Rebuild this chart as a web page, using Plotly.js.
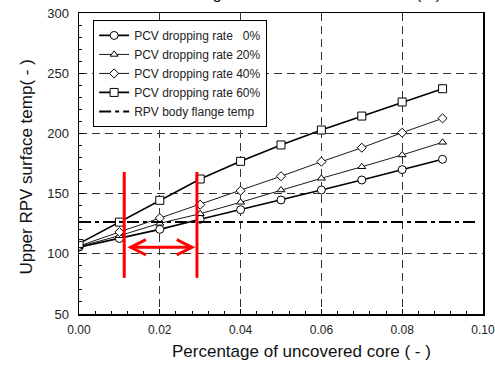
<!DOCTYPE html>
<html><head><meta charset="utf-8">
<script src="https://cdn.plot.ly/plotly-3.0.1.min.js"></script>
<style>html,body{margin:0;padding:0;background:#fff}#chart{width:495px;height:367px}</style>
</head><body><div id="chart"></div>
<script>
var xCore = [0, 0.01, 0.02, 0.03, 0.04, 0.05, 0.06, 0.07, 0.08, 0.09];
var rate0  = [105.5, 112.7, 120.3, 128.7, 136.6, 144.7, 153.0, 161.3, 169.9, 178.5];
var rate20 = [106.0, 115.0, 125.3, 133.3, 142.8, 153.0, 162.7, 172.3, 182.1, 192.6];
var rate40 = [106.5, 118.1, 129.7, 140.8, 152.4, 164.4, 176.5, 188.1, 200.6, 212.5];
var rate60 = [108.5, 126.3, 144.4, 162.1, 176.8, 190.4, 202.8, 214.4, 226.1, 237.1];
var flangeX = [0, 0.099];
var flangeTemp = [126.5, 126.5];
var redLineX = [0.0112, 0.0292];
var redLineY = [80, 168];
var arrowY = 105.4;
var xTicks = [0, 0.02, 0.04, 0.06, 0.08, 0.1];
var xTickText = ['0.00', '0.02', '0.04', '0.06', '0.08', '0.10'];
var yTicks = [50, 100, 150, 200, 250, 300];
var seriesNames = ['PCV dropping rate \u00a0\u00a00%', 'PCV dropping rate 20%', 'PCV dropping rate 40%', 'PCV dropping rate 60%', 'RPV body flange temp'];

function series(y, name, sym, size, lw) {
  return {x: xCore, y: y, name: name, type: 'scatter', mode: 'lines+markers',
    line: {color: '#000', width: lw},
    marker: {symbol: sym, size: size, color: '#fff', line: {color: '#000', width: 1}}};
}
var traces = [
  series(rate0, seriesNames[0], 'circle', 8, 1.6),
  series(rate20, seriesNames[1], 'triangle-up', 7, 0.9),
  series(rate40, seriesNames[2], 'diamond', 7, 0.9),
  series(rate60, seriesNames[3], 'square', 8, 1.6),
  {x: flangeX, y: flangeTemp, name: seriesNames[4], type: 'scatter', mode: 'lines',
   line: {color: '#000', width: 2, dash: '12px,4px,4px,4px'}}
];
redLineX.forEach(function (rx) {
  traces.push({x: [rx, rx], y: redLineY, type: 'scatter', mode: 'lines', showlegend: false,
    hoverinfo: 'skip', line: {color: '#ff0000', width: 3}});
});

var fam = 'Arial, Liberation Sans, sans-serif';
var layout = {
  width: 495, height: 367,
  margin: {l: 79, r: 12, t: 13, b: 53},
  paper_bgcolor: '#fff', plot_bgcolor: '#fff',
  showlegend: true,
  legend: {x: 0.035, y: 0.977, xanchor: 'left', yanchor: 'top', bgcolor: '#fff',
    bordercolor: '#000', borderwidth: 1, tracegroupgap: 0,
    font: {family: fam, size: 12, color: '#222'}},
  xaxis: {range: [0, 0.10001], tickvals: xTicks, ticktext: xTickText,
    tickfont: {family: fam, size: 12, color: '#222'},
    ticks: 'inside', ticklen: 5, tickcolor: '#000', ticklabelstandoff: 4, ticklabeloverflow: 'allow',
    minor: {dtick: 0.004, ticks: 'inside', ticklen: 3, tickcolor: '#000', showgrid: false},
    showline: true, linecolor: '#000', linewidth: 1.5, mirror: true,
    showgrid: true, gridcolor: '#333', gridwidth: 1, griddash: '8px,5px', zeroline: false},
  yaxis: {range: [50, 300], tickvals: yTicks, tickfont: {family: fam, size: 13, color: '#222'},
    ticks: 'inside', ticklen: 5, tickcolor: '#000', ticklabelstandoff: 6,
    minor: {dtick: 10, ticks: 'inside', ticklen: 3, tickcolor: '#000', showgrid: false},
    showline: true, linecolor: '#000', linewidth: 1.5, mirror: true,
    showgrid: true, gridcolor: '#333', gridwidth: 1, griddash: '8px,5px', zeroline: false},
  annotations: [
    {xref: 'x', yref: 'y', x: redLineX[1] - 0.0004, y: arrowY, axref: 'x', ayref: 'y',
     ax: redLineX[0] + 0.0004, ay: arrowY, showarrow: true, arrowside: 'end+start',
     arrowhead: 5, arrowsize: 1, arrowwidth: 3, arrowcolor: '#ff0000', text: ''},
    {xref: 'paper', yref: 'paper', x: 0.55, y: -0.085, xanchor: 'center', yanchor: 'top',
     showarrow: false, text: 'Percentage of uncovered core ( - )',
     font: {family: fam, size: 17, color: '#111'}},
    {xref: 'paper', yref: 'paper', x: -0.13, y: 0.488, xanchor: 'center', yanchor: 'middle',
     textangle: -90, showarrow: false, text: 'Upper RPV surface temp( - )',
     font: {family: fam, size: 17, color: '#111'}},
    {xref: 'paper', yref: 'paper', x: 0.9, y: 1.03, xanchor: 'right', yanchor: 'bottom',
     showarrow: false, text: 'Core heating effect on the outer surface (%)',
     font: {family: fam, size: 16, color: '#111'}}
  ]
};
Plotly.newPlot('chart', traces, layout, {displayModeBar: false, staticPlot: true});
</script></body></html>
